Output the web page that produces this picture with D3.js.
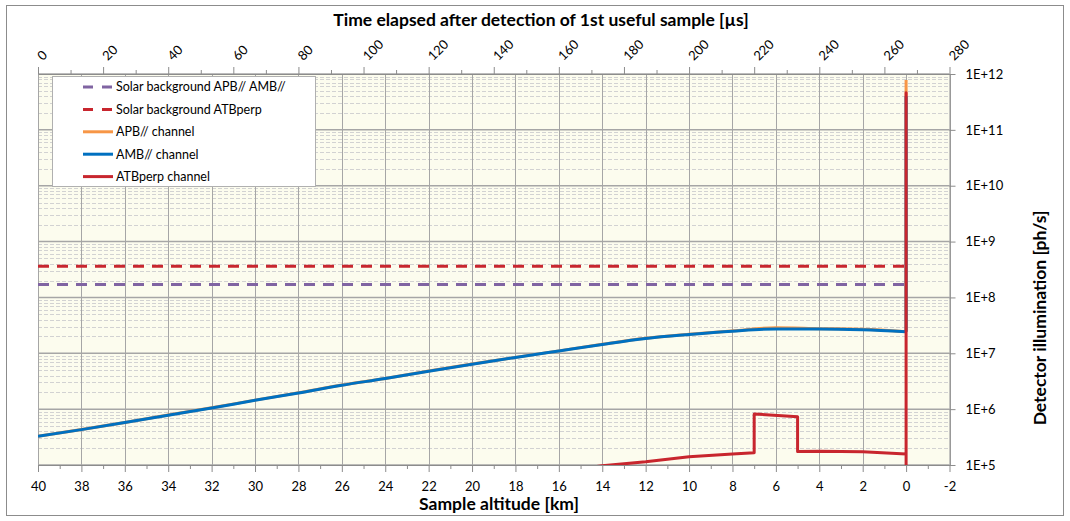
<!DOCTYPE html>
<html lang="en">
  <head>
    <meta charset="utf-8">
    <title>Detector illumination</title>
    <script src="https://d3js.org/d3.v7.min.js"></script>
    <style type="text/css">
      body { margin: 0; background: #fff; }
      text { font-family: Lato, "Open Sans", sans-serif; fill: #000; }
      .grid-major { stroke: #a6a6a6; stroke-width: 1px; }
      .grid-minor { stroke: #d2d2d2; stroke-width: 1px; stroke-dasharray: 4,2; }
      .axis path, .axis line { stroke: #8c8c8c; }
      .axis text { font-size: 13px; font-family: Lato, "Open Sans", sans-serif; }
      .title { font-size: 17.5px; font-weight: bold; }
      .legend text { font-size: 12.5px; }
    </style>
  </head>
  <body>
    <script>
      // sample altitude [km], every 2 km down to the ground
      var altitudes = [40, 38, 36, 34, 32, 30, 28, 26, 24, 22, 20,
                       18, 16, 14, 12, 10, 8, 6, 4, 2, 0];

      var ambChannel = [3.27e5, 4.3e5, 5.75e5, 7.8e5, 1.05e6, 1.44e6, 1.95e6,
                        2.68e6, 3.53e6, 4.78e6, 6.38e6, 8.4e6, 1.1e7, 1.44e7,
                        1.84e7, 2.17e7, 2.49e7, 2.73e7, 2.73e7, 2.63e7, 2.42e7];

      var apbChannel = [3.28e5, 4.32e5, 5.78e5, 7.83e5, 1.055e6, 1.45e6, 1.96e6,
                        2.7e6, 3.55e6, 4.8e6, 6.42e6, 8.45e6, 1.105e7, 1.45e7,
                        1.85e7, 2.19e7, 2.52e7, 2.86e7, 2.76e7, 2.68e7, 2.44e7];

      var atbAltitudes = [15, 14, 12, 10, 8, 7, 7, 5, 5, 4, 2, 0];
      var atbChannel = [8.6e4, 9.7e4, 1.14e5, 1.41e5, 1.58e5, 1.65e5,
                        8.2e5, 7.3e5, 1.75e5, 1.77e5, 1.72e5, 1.58e5];

      // ground return at 0 km
      var apbGroundPeak = 7.8e11;
      var ambGroundPeak = 4.0e11;
      var atbGroundPeak = 4.6e11;
      var atbAfterGround = 5e4;

      var solarApbAmb = 1.7e8;
      var solarAtb = 3.6e8;
      var solarAltitudes = [40, -0.2];

      var altTicks = d3.range(40, -3, -2);
      var altMinorTicks = d3.range(39, -2, -2);
      var timeTicks = d3.range(0, 281, 20);
      var timeMinorTicks = d3.range(10, 280, 20);
      var illumTicks = [1e5, 1e6, 1e7, 1e8, 1e9, 1e10, 1e11, 1e12];

      var legendLabels = ["Solar background APB// AMB//", "Solar background ATBperp",
                          "APB// channel", "AMB// channel", "ATBperp channel"];
      var legendColors = ["#8064a2", "#c8262e", "#f79646", "#0070c0", "#c8262e"];
      var legendDashed = [true, true, false, false, false];

      var w = 1070, h = 521;
      var pLeft = 38, pRight = 949.5, pTop = 74, pBottom = 465;

      var svg = d3.select("body").append("svg")
          .attr("width", w).attr("height", h);

      svg.append("rect")
        .attr("x", 6.5).attr("y", 5.5)
        .attr("width", 1057).attr("height", 510)
        .attr("fill", "#fff").attr("stroke", "#8c8c8c");

      var x = d3.scaleLinear().domain([40, -2]).range([pLeft, pRight]);
      var t = d3.scaleLinear().domain([0, 280]).range([pLeft, pRight]);
      var y = d3.scaleLog().domain([1e5, 1e12]).range([pBottom, pTop]);

      svg.append("rect")
        .attr("x", pLeft).attr("y", pTop)
        .attr("width", pRight - pLeft).attr("height", pBottom - pTop)
        .attr("fill", "#fcfcee");

      // grid
      var minorVals = [];
      for (var e = 5; e < 12; e++) {
        for (var k = 2; k <= 9; k++) minorVals.push(k * Math.pow(10, e));
      }
      svg.selectAll(".grid-minor").data(minorVals).enter().append("line")
        .attr("class", "grid-minor")
        .attr("x1", pLeft).attr("x2", pRight)
        .attr("y1", d => Math.round(y(d)) + 0.5).attr("y2", d => Math.round(y(d)) + 0.5);

      svg.selectAll(".grid-v").data(altTicks).enter().append("line")
        .attr("class", "grid-major")
        .attr("x1", d => Math.round(x(d)) + 0.5).attr("x2", d => Math.round(x(d)) + 0.5)
        .attr("y1", pTop).attr("y2", pBottom);

      svg.selectAll(".grid-h").data(illumTicks).enter().append("line")
        .attr("class", "grid-major")
        .attr("x1", pLeft).attr("x2", pRight)
        .attr("y1", d => y(d)).attr("y2", d => y(d))
        .style("stroke-width", "1.5px");

      // axes
      svg.append("g").attr("class", "axis")
        .attr("transform", "translate(0," + pBottom + ")")
        .call(d3.axisBottom(x).tickValues(altTicks).tickSize(7).tickSizeOuter(0)
          .tickPadding(10).tickFormat(d => String(d)));

      svg.append("g").attr("class", "axis")
        .attr("transform", "translate(0," + pBottom + ")")
        .call(d3.axisBottom(x).tickValues(altMinorTicks).tickSize(4).tickFormat(""))
        .select(".domain").remove();

      var topAxis = svg.append("g").attr("class", "axis")
        .attr("transform", "translate(0," + pTop + ")")
        .call(d3.axisTop(t).tickValues(timeTicks).tickSize(7).tickSizeOuter(0)
          .tickFormat(d => String(d)));
      topAxis.selectAll("text")
        .attr("y", 0).attr("dy", "0.35em")
        .attr("transform", "translate(1,-16) rotate(-45)")
        .style("text-anchor", "start");

      svg.append("g").attr("class", "axis")
        .attr("transform", "translate(0," + pTop + ")")
        .call(d3.axisTop(t).tickValues(timeMinorTicks).tickSize(4).tickFormat(""))
        .select(".domain").remove();

      svg.append("g").attr("class", "axis")
        .attr("transform", "translate(" + pRight + ",0)")
        .call(d3.axisRight(y).tickValues(illumTicks).tickSize(6).tickSizeOuter(0)
          .tickPadding(10).tickFormat(d => "1E+" + Math.round(Math.log10(d))));

      // series
      svg.append("clipPath").attr("id", "clip").append("rect")
        .attr("x", pLeft).attr("y", pTop)
        .attr("width", pRight - pLeft).attr("height", pBottom - pTop);
      var plot = svg.append("g").attr("clip-path", "url(#clip)");

      var flat = d3.line().x(d => x(d[0])).y(d => y(d[1]));
      var smooth = d3.line().x(d => x(d[0])).y(d => y(d[1])).curve(d3.curveMonotoneX);

      plot.append("path")
        .datum(solarAltitudes.map(a => [a, solarApbAmb]))
        .attr("d", flat).attr("fill", "none")
        .attr("stroke", "#8064a2").attr("stroke-width", 3)
        .attr("stroke-dasharray", "11,8");

      plot.append("path")
        .datum(solarAltitudes.map(a => [a, solarAtb]))
        .attr("d", flat).attr("fill", "none")
        .attr("stroke", "#c8262e").attr("stroke-width", 3)
        .attr("stroke-dasharray", "11,8");

      // APB// channel
      plot.append("path")
        .datum(altitudes.map((a, i) => [a, apbChannel[i]]))
        .attr("d", smooth).attr("fill", "none")
        .attr("stroke", "#f79646").attr("stroke-width", 3);
      plot.append("path")
        .datum([[0, apbChannel[apbChannel.length - 1]], [0, apbGroundPeak]])
        .attr("d", flat).attr("fill", "none")
        .attr("stroke", "#f79646").attr("stroke-width", 3);

      // AMB// channel
      plot.append("path")
        .datum(altitudes.map((a, i) => [a, ambChannel[i]]))
        .attr("d", smooth).attr("fill", "none")
        .attr("stroke", "#0070c0").attr("stroke-width", 3);
      plot.append("path")
        .datum([[0, ambChannel[ambChannel.length - 1]], [0, ambGroundPeak]])
        .attr("d", flat).attr("fill", "none")
        .attr("stroke", "#0070c0").attr("stroke-width", 3);

      // ATBperp channel
      var atbData = atbAltitudes.map((a, i) => [a, atbChannel[i]]);
      atbData.push([0, atbGroundPeak], [0, atbAfterGround]);
      plot.append("path")
        .datum(atbData)
        .attr("d", flat).attr("fill", "none")
        .attr("stroke", "#c8262e").attr("stroke-width", 3)
        .attr("stroke-linejoin", "round");

      // legend
      var legend = svg.append("g").attr("class", "legend");
      legend.append("rect")
        .attr("x", 52.5).attr("y", 76.5).attr("width", 263).attr("height", 110)
        .attr("fill", "#fff").attr("stroke", "#b0b0b0");
      legendLabels.forEach(function(label, i) {
        var ly = 87 + i * 22.4;
        legend.append("line")
          .attr("x1", 83).attr("x2", 113).attr("y1", ly).attr("y2", ly)
          .attr("stroke", legendColors[i]).attr("stroke-width", 3)
          .attr("stroke-dasharray", legendDashed[i] ? "10,9" : null);
        legend.append("text")
          .attr("x", 116).attr("y", ly).attr("dy", "0.35em")
          .text(label);
      });

      // titles
      svg.append("text").attr("class", "title")
        .attr("x", 541).attr("y", 26).attr("text-anchor", "middle")
        .text("Time elapsed after detection of 1st useful sample [µs]");

      svg.append("text").attr("class", "title")
        .attr("x", 499).attr("y", 510).attr("text-anchor", "middle")
        .text("Sample altitude [km]");

      svg.append("text").attr("class", "title")
        .attr("transform", "translate(1040,318) rotate(-90)")
        .attr("dy", "0.35em").attr("text-anchor", "middle")
        .text("Detector illumination [ph/s]");
    </script>
  </body>
</html>
